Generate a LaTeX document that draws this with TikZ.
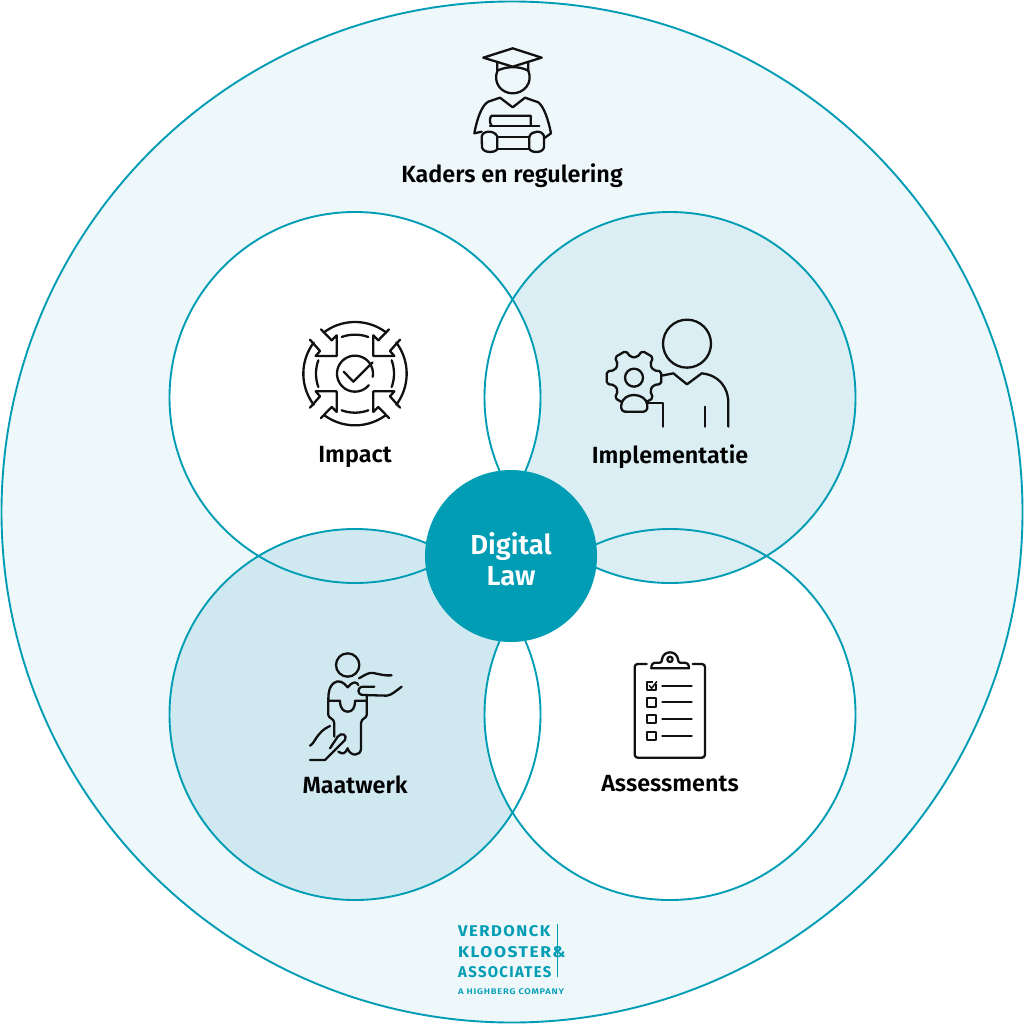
\documentclass[tikz,border=0pt]{standalone}
\usepackage{fontspec}
\setmainfont{Fira Sans}
\newfontfamily\labfont{Fira Sans SemiBold}
\newfontfamily\logofont[LetterSpace=9]{Fira Sans Bold}
\newfontfamily\logosmall[LetterSpace=8]{Fira Sans SemiBold}
\definecolor{teal}{HTML}{009DB5}
\definecolor{outerbg}{HTML}{EEF7FA}
\definecolor{implbg}{HTML}{DBEEF4}
\definecolor{maatbg}{HTML}{D0E9F0}
\definecolor{ink}{HTML}{111111}
\tikzset{
  ring/.style={draw=teal,line width=1.9pt},
  icon/.style={draw=ink,line width=2.3pt,line cap=round,line join=round},
  lab/.style={font=\labfont\fontsize{23.4}{26}\selectfont,text=black,inner sep=0pt,anchor=center},
  core/.style={font=\labfont\fontsize{27.5}{30}\selectfont,text=white,inner sep=0pt,anchor=center},
  logo/.style={font=\logofont\fontsize{15.5}{18}\selectfont,text=teal,inner sep=0pt,anchor=west},
  tiny/.style={font=\logosmall\fontsize{8.2}{10}\selectfont,text=teal,inner sep=0pt,anchor=west}
}
\begin{document}
\begin{tikzpicture}[x=1pt,y=-1pt]
\useasboundingbox (0,0) rectangle (1024,1024);
\fill[white] (0,0) rectangle (1024,1024);
\coordinate (cO) at (512,512);
\coordinate (cA) at (355,397.5);
\coordinate (cB) at (670,397.5);
\coordinate (cC) at (355,714.5);
\coordinate (cD) at (670,714.5);
\def\R{185.5}
% circles
\fill[outerbg] (cO) circle[radius=510.5];
\fill[white] (cA) circle[radius=\R];
\fill[implbg] (cB) circle[radius=\R];
\fill[maatbg] (cC) circle[radius=\R];
\fill[white] (cD) circle[radius=\R];
\begin{scope}\clip (cA) circle[radius=\R]; \fill[white] (cB) circle[radius=\R]; \fill[maatbg] (cC) circle[radius=\R]; \end{scope}
\begin{scope}\clip (cD) circle[radius=\R]; \fill[implbg] (cB) circle[radius=\R]; \fill[white] (cC) circle[radius=\R]; \end{scope}
\draw[ring] (cO) circle[radius=510.5];
\foreach \c in {cA,cB,cC,cD} \draw[ring] (\c) circle[radius=\R];
\fill[teal] (511,556) circle[radius=86];
% labels
\node[lab] (kaders) at (512,176) {Kaders en regulering};
\node[lab] (impact) at (355,457) {Impact};
\node[lab] (impl) at (670,457) {Implementatie};
\node[lab] (maat) at (355,784.5) {Maatwerk};
\node[lab] (assess) at (670,783.5) {Assessments};
\node[core] (digital) at (511,546) {Digital};
\node[core] (law) at (511,576.5) {Law};
% logo
\node[logo] (v) at (458,931) {\scalebox{1.07}[1]{VERDONCK}};
\node[logo] (k) at (458,952) {\scalebox{1.12}[1]{KLOOSTER\&}};
\node[logo] (as) at (458,972) {\scalebox{0.96}[1]{ASSOCIATES}};
\node[tiny] (hb) at (458,992) {\scalebox{1.14}[1]{A HIGHBERG COMPANY}};
\draw[teal,line width=0.8pt] (557,924) -- (557,977);
% graduate icon
\begin{scope}[shift={(440,30)},scale=1/3]
\draw[icon] (130,83) -- (218,55) -- (305,83) -- (218,110) -- cycle;
\draw[icon] (172,97) -- (172,122) .. controls (200,108) and (238,108) .. (265,122) -- (265,97);
\draw[icon] (172,122) .. controls (158,160) and (185,190) .. (218,190) .. controls (251,190) and (280,160) .. (265,122);
\draw[icon] (125,305) -- (103,310) .. controls (110,270) and (125,225) .. (145,215) -- (180,203) -- (218,232) -- (255,203) -- (295,217) .. controls (312,230) and (325,270) .. (333,310) -- (312,325);
\draw[icon] (155,287) .. controls (148,280) and (148,262) .. (155,257) -- (272,257) -- (272,287);
\draw[icon] (150,287) -- (298,287);
\draw[icon] (172,322) -- (268,322);
\draw[icon] (172,358) -- (268,358);
\draw[icon] (172,320) -- (172,355) .. controls (172,368) and (130,372) .. (126,352) -- (125,320) .. controls (128,300) and (165,300) .. (172,320);
\draw[icon] (268,320) .. controls (275,300) and (310,300) .. (312,320) -- (312,352) .. controls (308,372) and (268,368) .. (268,355) -- cycle;
\end{scope}
% impact icon
\begin{scope}[shift={(285,305)},scale=1/3]
\foreach \r in {0,90,180,270}{
  \draw[icon] plot[domain=\r-37:\r+37,samples=24,smooth] ({210+155*cos(\x)},{206-155*sin(\x)});
  \draw[icon] plot[domain=\r-20:\r+20,samples=16,smooth] ({210+117*cos(\x)},{206-117*sin(\x)});
}
\foreach \sx/\sy in {1/1,-1/1,1/-1,-1/-1}{
  \begin{scope}[shift={(210,206)},xscale=\sx,yscale=\sy]
  \draw[icon] (-102,-133) -- (-70,-100) -- (-55,-115) -- (-55,-53) -- (-118,-53) -- (-105,-68) -- (-135,-102);
  \end{scope}
}
\draw[icon] plot[domain=-10:320,samples=40,smooth] ({210+54*cos(\x)},{206-54*sin(\x)});
\draw[icon] (176,200) -- (205,230) -- (263,172);
\end{scope}
% implementatie icon
\begin{scope}[shift={(590,305)},scale=1/3]
\draw[icon] (291,116) circle[radius=72];
\draw[icon] (215,212) -- (250,205) -- (291,238) -- (335,205) .. controls (385,210) and (415,245) .. (415,295) -- (415,365);
\draw[icon] (345,305) -- (345,365);
\draw[icon] (172,295) -- (219,295) -- (219,365);
\draw[icon,rounded corners=2pt] ({132+84*cos(-13)},{218-84*sin(-13)})
  \foreach \a in {0,60,...,300}{ -- ({132+84*cos(\a-13)},{218-84*sin(\a-13)}) -- ({132+84*cos(\a+13)},{218-84*sin(\a+13)}) -- ({132+62*cos(\a+21)},{218-62*sin(\a+21)}) -- ({132+62*cos(\a+39)},{218-62*sin(\a+39)}) } -- cycle;
\draw[icon] (132,218) circle[radius=27];
\fill[implbg] (100,285) rectangle (165,320);
\draw[icon,fill=implbg] (94,300) .. controls (97,278) and (115,270) .. (132,270) .. controls (150,270) and (170,280) .. (172,300) .. controls (174,318) and (165,322) .. (150,320) -- (112,320) .. controls (98,322) and (92,315) .. (94,300) -- cycle;
\end{scope}
% maatwerk icon
\begin{scope}[shift={(295,640)},scale=1/3]
\draw[icon] (158,75) circle[radius=35];
\draw[icon] (192,115) .. controls (210,105) and (220,97) .. (235,99) .. controls (250,102) and (270,108) .. (290,106);
\draw[icon] (238,140) -- (205,140) .. controls (185,140) and (185,165) .. (205,165) -- (275,167) .. controls (290,165) and (300,155) .. (320,140);
\draw[icon] (190,135) .. controls (185,125) and (175,122) .. (158,142) .. controls (145,125) and (130,118) .. (115,130) .. controls (105,140) and (100,150) .. (100,180);
\draw[icon] (100,182) -- (135,182) .. controls (135,205) and (145,215) .. (158,215) .. controls (172,215) and (180,205) .. (180,182) -- (215,182);
\draw[icon] (215,165) -- (215,225) .. controls (215,235) and (198,235) .. (198,250) -- (198,325) .. controls (198,350) and (165,350) .. (158,325) .. controls (150,340) and (145,345) .. (130,335);
\draw[icon] (100,182) -- (100,225) .. controls (100,235) and (118,235) .. (118,250) -- (118,290);
\draw[icon] (45,317) .. controls (60,310) and (65,275) .. (105,258);
\draw[icon] (45,360) -- (90,360) -- (115,335) -- (150,300) .. controls (158,285) and (140,275) .. (128,290) -- (105,325);
\end{scope}
% clipboard icon
\begin{scope}[shift={(610,640)},scale=1/3]
\draw[icon,rounded corners=3pt] (110,72) -- (74,72) -- (74,353) -- (285,353) -- (285,72) -- (248,72);
\draw[icon] (124,85) -- (237,85) .. controls (237,72) and (232,68) .. (220,68) -- (210,68) .. controls (205,68) and (205,62) .. (204,58) .. controls (200,30) and (160,30) .. (156,58) .. controls (155,62) and (155,68) .. (150,68) -- (140,68) .. controls (128,68) and (124,72) .. (124,85) -- cycle;
\draw[icon] (180,58) circle[radius=8];
\foreach \y in {137,187,237,287}{
  \draw[icon] (111,{\y-12}) rectangle (138,{\y+13});
  \draw[icon] (157,\y) -- (245,\y);
}
\fill[white] (130,122) rectangle (142,132);
\draw[icon,line width=1.5pt] (118,137) -- (125,145) -- (140,125);
\end{scope}
\end{tikzpicture}
\end{document}
